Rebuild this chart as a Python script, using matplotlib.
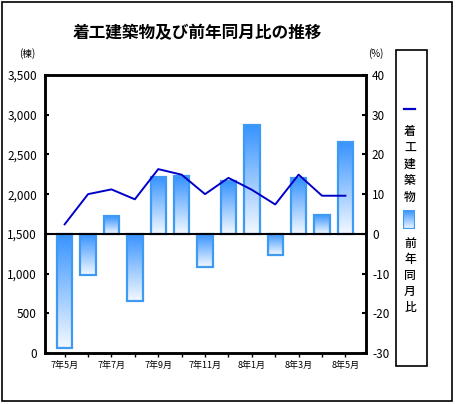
import numpy as np
import matplotlib
matplotlib.use('Agg')
import matplotlib.pyplot as plt
from matplotlib.patches import Rectangle
from matplotlib.colors import LinearSegmentedColormap

plt.rcParams['font.family'] = ['Liberation Sans Narrow', 'Noto Sans CJK JP', 'DejaVu Sans']
plt.rcParams['axes.unicode_minus'] = False

# data
months = ['7年5月', '7年6月', '7年7月', '7年8月', '7年9月', '7年10月', '7年11月',
          '7年12月', '8年1月', '8年2月', '8年3月', '8年4月', '8年5月']
starts = [1620, 2000, 2060, 1935, 2315, 2245, 2000, 2205, 2055, 1870, 2245, 1980, 1980]
yoy = [-28.8, -10.3, 4.5, -17.0, 14.4, 14.6, -8.3, 13.2, 27.5, -5.4, 14.1, 4.8, 23.2]

TITLE = '着工建築物及び前年同月比の推移'
LINE_LABEL = '着工建築物'
BAR_LABEL = '前年同月比'

LINE_COLOR = '#0000C8'
BAR_EDGE = '#3F9AF2'
grad_cmap = LinearSegmentedColormap.from_list('bar', ['#3592FF', '#F4F9FF'])
CJK = ['Noto Sans CJK JP', 'DejaVu Sans']

W, H = 458, 404
fig = plt.figure(figsize=(W / 100, H / 100), dpi=100)


def fx(px):
    return px / W


def fy(py):
    return 1 - py / H


# outer frame
fig.patches.append(Rectangle((fx(1.5), fy(400.5)), fx(450), (399 / H), transform=fig.transFigure,
                             fill=False, edgecolor='black', lw=1.2))

ax = fig.add_axes([fx(45), fy(353), fx(321), (278 / H)])
ax2 = ax.twinx()
ax.set_zorder(ax2.get_zorder() + 1)
ax.patch.set_visible(False)

x = np.arange(len(months))

# bars (right axis) with vertical gradient
bars = ax2.bar(x, yoy, width=0.66, color='none', edgecolor=BAR_EDGE, linewidth=1.6, zorder=3)
grad = np.linspace(0, 1, 256).reshape(-1, 1)
for b in bars:
    x0, w = b.get_x(), b.get_width()
    h = b.get_height()
    top, bot = max(0, h), min(0, h)
    im = ax2.imshow(grad, cmap=grad_cmap, aspect='auto', extent=(x0, x0 + w, bot, top),
                    origin='upper', zorder=2)
    im.set_clip_path(b)
ax2.axhline(0, color='black', lw=1.5, zorder=4)

ax.plot(x, starts, color=LINE_COLOR, lw=1.4, zorder=5)

ax.set_xlim(-0.84, 12.88)
ax.set_ylim(0, 3500)
ax2.set_ylim(-30, 40)
ax.set_yticks(np.arange(0, 3501, 500))
ax.set_yticklabels([f'{v:,}' for v in range(0, 3501, 500)])
ax2.set_yticks(np.arange(-30, 41, 10))
ax.set_xticks(x)
ax.set_xticklabels([m if i % 2 == 0 else '' for i, m in enumerate(months)], fontsize=6.5)

ax.tick_params(axis='y', direction='in', length=3, width=1.5, pad=5.8, labelsize=8.5)
ax2.tick_params(axis='y', direction='in', length=3, width=1.5, pad=4.3, labelsize=8.5)
ax.tick_params(axis='x', direction='out', length=3, width=1, pad=2.5)
for a in (ax, ax2):
    for s in a.spines.values():
        s.set_linewidth(1.8)

fig.text(fx(197), fy(33), TITLE, ha='center', va='center', fontsize=12,
         fontweight='bold', family=CJK)
fig.text(fx(27), fy(54), '(棟)', ha='center', va='center', fontsize=7, family=CJK)
fig.text(fx(376), fy(54), '(%)', ha='center', va='center', fontsize=7)

# legend box
fig.patches.append(Rectangle((fx(395.5), fy(366)), fx(31), (316.5 / H), transform=fig.transFigure,
                             fill=False, edgecolor='black', lw=1.2))
fig.lines.append(plt.Line2D([fx(404), fx(415)], [fy(109), fy(109)], transform=fig.transFigure,
                            color=LINE_COLOR, lw=1.6))
for i, ch in enumerate(LINE_LABEL):
    fig.text(fx(410), fy(131 + i * 16.5), ch, ha='center', va='center', fontsize=8.5,
             fontweight='medium', family=CJK)
lax = fig.add_axes([fx(403), fy(229), fx(12), (19 / H)])
lax.imshow(grad, cmap=grad_cmap, aspect='auto', extent=(0, 1, 0, 1))
lax.add_patch(Rectangle((0, 0), 1, 1, fill=False, edgecolor=BAR_EDGE, lw=1.6))
lax.set_xlim(0, 1)
lax.set_ylim(0, 1)
lax.axis('off')
for i, ch in enumerate(BAR_LABEL):
    fig.text(fx(410), fy(243 + i * 16.2), ch, ha='center', va='center', fontsize=8.5,
             fontweight='medium', family=CJK)

fig.savefig('out.png', dpi=100)
